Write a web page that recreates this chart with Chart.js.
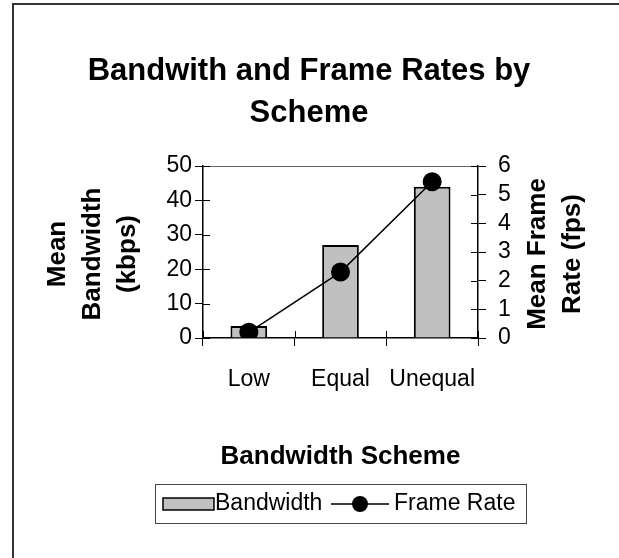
<!DOCTYPE html>
<html>
<head>
<meta charset="utf-8">
<script src="https://cdn.jsdelivr.net/npm/chart.js@4/dist/chart.umd.min.js"></script>
<style>
  html, body { margin: 0; padding: 0; background: #fff; }
  #wrap { width: 619px; height: 558px; }
</style>
</head>
<body>
<div id="wrap"><canvas id="chart" width="619" height="558"></canvas></div>
<script>
const categories = ['Low', 'Equal', 'Unequal'];
const bandwidthKbps = [3.5, 27, 44];
const frameRateFps = [0.2, 2.3, 5.45];
const bandwidthTicks = [0, 10, 20, 30, 40, 50];
const frameRateTicks = [0, 1, 2, 3, 4, 5, 6];

const titleLines = ['Bandwith and Frame Rates by', 'Scheme'];
const leftTitle = ['Mean', 'Bandwidth', '(kbps)'];
const rightTitle = ['Mean Frame', 'Rate (fps)'];
const xTitle = 'Bandwidth Scheme';

const FONT = 'Arial, "Liberation Sans", sans-serif';

// border, titles, crossing tick marks and the boxed legend
const decorations = {
  id: 'decorations',
  beforeDraw(chart) {
    const c = chart.ctx;
    c.save();
    c.fillStyle = '#fff';
    c.fillRect(0, 0, chart.width, chart.height);
    c.strokeStyle = '#333';
    c.lineWidth = 2;
    c.beginPath();
    c.moveTo(13, chart.height);
    c.lineTo(13, 4);
    c.lineTo(chart.width, 4);
    c.stroke();
    c.restore();
  },
  afterDraw(chart) {
    const c = chart.ctx;
    const a = chart.chartArea;
    const y = chart.scales.y, y1 = chart.scales.y1;
    c.save();

    // top edge of the plot area
    c.strokeStyle = '#666';
    c.lineWidth = 1;
    c.beginPath();
    c.moveTo(a.left, a.top + 0.5);
    c.lineTo(a.right, a.top + 0.5);
    c.stroke();

    // inner halves of the tick marks
    c.strokeStyle = '#000';
    c.lineWidth = 1;
    c.beginPath();
    bandwidthTicks.forEach(v => {
      const py = Math.round(y.getPixelForValue(v)) + 0.5;
      c.moveTo(a.left, py); c.lineTo(a.left + 7, py);
    });
    frameRateTicks.forEach(v => {
      const py = Math.round(y1.getPixelForValue(v)) + 0.5;
      c.moveTo(a.right, py); c.lineTo(a.right - 7, py);
    });
    const step = (a.right - a.left) / categories.length;
    for (let i = 0; i <= categories.length; i++) {
      const px = Math.round(a.left + i * step) + 0.5;
      c.moveTo(px, a.bottom); c.lineTo(px, a.bottom - 7);
    }
    c.stroke();

    c.fillStyle = '#000';
    c.textAlign = 'center';
    c.textBaseline = 'middle';

    // chart title
    c.font = 'bold 31px ' + FONT;
    titleLines.forEach((t, i) => c.fillText(t, 309, 71 + i * 42));

    // axis titles
    c.font = 'bold 26px ' + FONT;
    c.fillText(xTitle, (a.left + a.right) / 2, 457);

    const midY = (a.top + a.bottom) / 2 + 2;
    leftTitle.forEach((t, i) => {
      c.save();
      c.translate(58 + i * 35, midY);
      c.rotate(-Math.PI / 2);
      c.fillText(t, 0, 0);
      c.restore();
    });
    rightTitle.forEach((t, i) => {
      c.save();
      c.translate(538 + i * 35, midY);
      c.rotate(-Math.PI / 2);
      c.fillText(t, 0, 0);
      c.restore();
    });

    // legend
    const bar = chart.data.datasets.find(d => d.type === 'bar');
    const line = chart.data.datasets.find(d => d.type === 'line');
    const ly = 504;
    c.strokeStyle = '#444';
    c.lineWidth = 1;
    c.strokeRect(155.5, 484.5, 371, 39);

    c.fillStyle = bar.backgroundColor;
    c.fillRect(163, 498, 51, 12);
    c.strokeStyle = bar.borderColor;
    c.lineWidth = 1.5;
    c.strokeRect(163, 498, 51, 12);

    c.strokeStyle = line.borderColor;
    c.lineWidth = 1.5;
    c.beginPath();
    c.moveTo(331, ly); c.lineTo(389, ly);
    c.stroke();
    c.fillStyle = line.pointBackgroundColor;
    c.beginPath();
    c.arc(360, ly, 8, 0, Math.PI * 2);
    c.fill();

    c.fillStyle = '#000';
    c.textAlign = 'left';
    c.font = '23px ' + FONT;
    c.fillText(bar.label, 215, ly);
    c.fillText(line.label, 394, ly);

    c.restore();
  }
};

new Chart(document.getElementById('chart'), {
  data: {
    labels: categories,
    datasets: [
      {
        type: 'line',
        label: 'Frame Rate',
        data: frameRateFps,
        yAxisID: 'y1',
        borderColor: '#000',
        borderWidth: 1.5,
        pointBackgroundColor: '#000',
        pointBorderColor: '#000',
        pointRadius: 9.5,
        pointBorderWidth: 0,
        tension: 0,
        order: 0
      },
      {
        type: 'bar',
        label: 'Bandwidth',
        data: bandwidthKbps,
        yAxisID: 'y',
        backgroundColor: '#c0c0c0',
        borderColor: '#000',
        borderWidth: 2,
        barPercentage: 0.4,
        categoryPercentage: 1,
        order: 1
      }
    ]
  },
  options: {
    responsive: false,
    animation: false,
    events: [],
    layout: { padding: { top: 166, left: 0, right: 0, bottom: 0 } },
    plugins: {
      legend: { display: false },
      title: { display: false },
      tooltip: { enabled: false }
    },
    scales: {
      x: {
        type: 'category',
        offset: true,
        grid: { offset: true, drawOnChartArea: false, tickLength: 8, color: '#000', lineWidth: 1 },
        border: { color: '#000', width: 1.5 },
        ticks: { color: '#000', font: { family: FONT, size: 23 }, padding: 20, maxRotation: 0, autoSkip: false },
        afterFit(s) { s.height = 220; }
      },
      y: {
        position: 'left',
        min: 0,
        max: 50,
        afterBuildTicks(s) { s.ticks = bandwidthTicks.map(v => ({ value: v })); },
        grid: { drawOnChartArea: false, tickLength: 8, color: '#000' },
        border: { color: '#000', width: 1.5 },
        ticks: { color: '#000', font: { family: FONT, size: 23 }, padding: 3, autoSkip: false },
        afterFit(s) { s.width = 203; }
      },
      y1: {
        position: 'right',
        min: 0,
        max: 6,
        afterBuildTicks(s) { s.ticks = frameRateTicks.map(v => ({ value: v })); },
        grid: { drawOnChartArea: false, tickLength: 8, color: '#000' },
        border: { color: '#000', width: 1.5 },
        ticks: { color: '#000', font: { family: FONT, size: 23 }, padding: 12, autoSkip: false },
        afterFit(s) { s.width = 141; }
      }
    }
  },
  plugins: [decorations]
});
</script>
</body>
</html>
